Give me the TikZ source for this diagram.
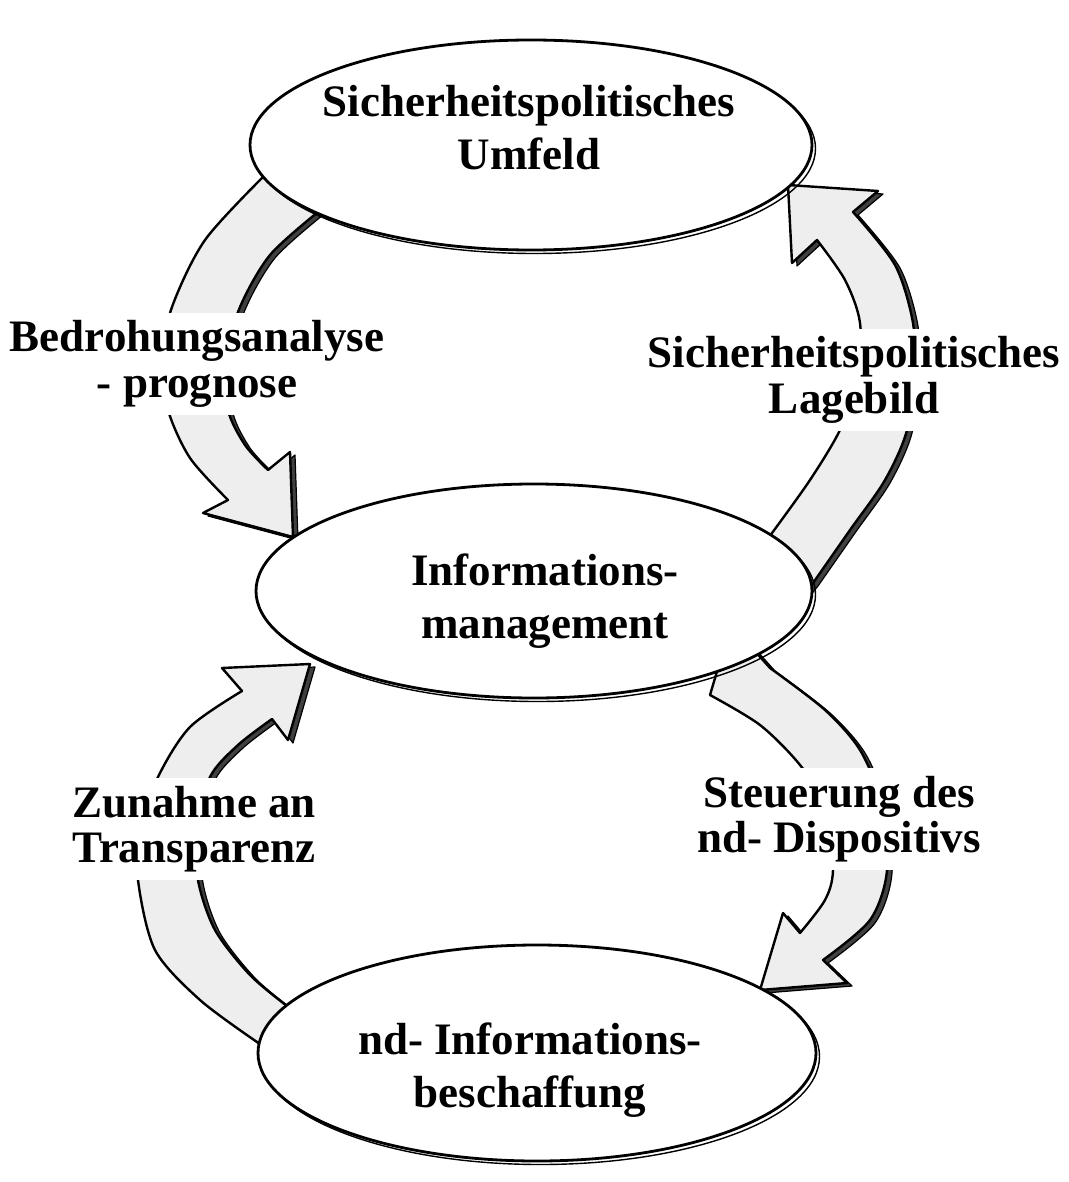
\documentclass[tikz,border=0pt]{standalone}
\usepackage{fontspec}
\setmainfont{Liberation Serif}
\usetikzlibrary{shapes.geometric}
\definecolor{arrgray}{HTML}{EEEEEE}
\definecolor{shadowgray}{HTML}{404040}
\newcommand\arrowOne{(333,197) -- plot[smooth] coordinates {(318,212) (270,255) (240,307) (226,360) (228,410) (245,445) (268,470)} -- (290,452) -- (293,537) -- (203,513) -- plot[smooth] coordinates {(228,500) (190,458) (168,410) (162,360) (172,307) (205,240) (265,175)} -- (280,160) -- cycle}
\newcommand\arrowTwo{(757,553) -- plot[smooth] coordinates {(772,533) (810,480) (840,430) (858,380) (860,323) (845,280) (817,240)} -- (792,263) -- (788,185) -- (878,191) -- plot[smooth] coordinates {(853,212) (895,265) (913,323) (913,370) (907,430) (885,480) (850,530) (813,583)} -- (795,605) -- cycle}
\newcommand\arrowThree{(302,1020) -- plot[smooth] coordinates {(287,1006) (250,975) (215,930) (198,880) (198,830) (210,777) (238,745) (272,719)} -- (288,740) -- (310,664) -- (222,668) -- plot[smooth] coordinates {(242,691) (190,727) (158,777) (140,830) (138,880) (155,950) (200,1000) (257,1042)} -- (275,1058) -- cycle}
\newcommand\arrowFour{(718,668) -- plot[smooth] coordinates {(710,695) (760,725) (800,765) (828,810) (833,870) (825,900) (800,933)} -- (783,913) -- (760,990) -- (847,983) -- plot[smooth] coordinates {(823,960) (870,920) (887,870) (880,800) (860,750) (825,710) (770,668)} -- (745,640) -- cycle}
\begin{document}
\begin{tikzpicture}[x=1pt,y=-1pt,
  ell/.style={ellipse, draw=black, line width=2.8pt, fill=white, inner sep=0pt},
  ellsh/.style={draw=black, line width=1.4pt},
  etext/.style={font=\bfseries\fontsize{45}{53}\selectfont, align=center, inner sep=0pt},
  ltext/.style={font=\bfseries\fontsize{45}{45.5}\selectfont, align=center, fill=white, inner xsep=2pt, inner ysep=8pt},
  arrbody/.style={fill=arrgray, draw=black, line width=2.4pt, line join=round},
  arrshadow/.style={fill=shadowgray, draw=black, line width=1.2pt, line join=round},
]
\fill[white] (0,0) rectangle (1068,1182);
\useasboundingbox (0,0) rectangle (1068,1182);

% curved block arrows: shadow then body
\path[arrshadow, shift={(5,3)}] \arrowOne;
\path[arrbody] \arrowOne;
\path[arrshadow, shift={(5,3)}] \arrowTwo;
\path[arrbody] \arrowTwo;
\path[arrshadow, shift={(5,3)}] \arrowThree;
\path[arrbody] \arrowThree;
\path[arrshadow, shift={(5,3)}] \arrowFour;
\path[arrbody] \arrowFour;

% ellipses with offset outline
\draw[ellsh] (534.5,148.5) ellipse [x radius=281, y radius=105];
\node[ell, minimum width=562pt, minimum height=210pt] (top) at (531,145) {};
\draw[ellsh] (537.5,594.5) ellipse [x radius=278, y radius=107];
\node[ell, minimum width=556pt, minimum height=214pt] (mid) at (534,591) {};
\draw[ellsh] (540.5,1056.5) ellipse [x radius=279, y radius=108];
\node[ell, minimum width=558pt, minimum height=216pt] (bot) at (537,1053) {};

% ellipse texts
\node[etext] (toptxt) at (529,128) {Sicherheitspolitisches\\Umfeld};
\node[etext] (midtxt) at (545,601) {Informations-\\management};
\node[etext] (bottxt) at (530,1070) {nd- Informations-\\beschaffung};

% arrow labels
\node[ltext] (l1) at (197,364) {Bedrohungsanalyse\\- prognose};
\node[ltext] (l2) at (854,380) {Sicherheitspolitisches\\Lagebild};
\node[ltext] (l3) at (194,829) {Zunahme an\\Transparenz};
\node[ltext] (l4) at (839,819) {Steuerung des\\nd- Dispositivs};
\end{tikzpicture}
\end{document}
